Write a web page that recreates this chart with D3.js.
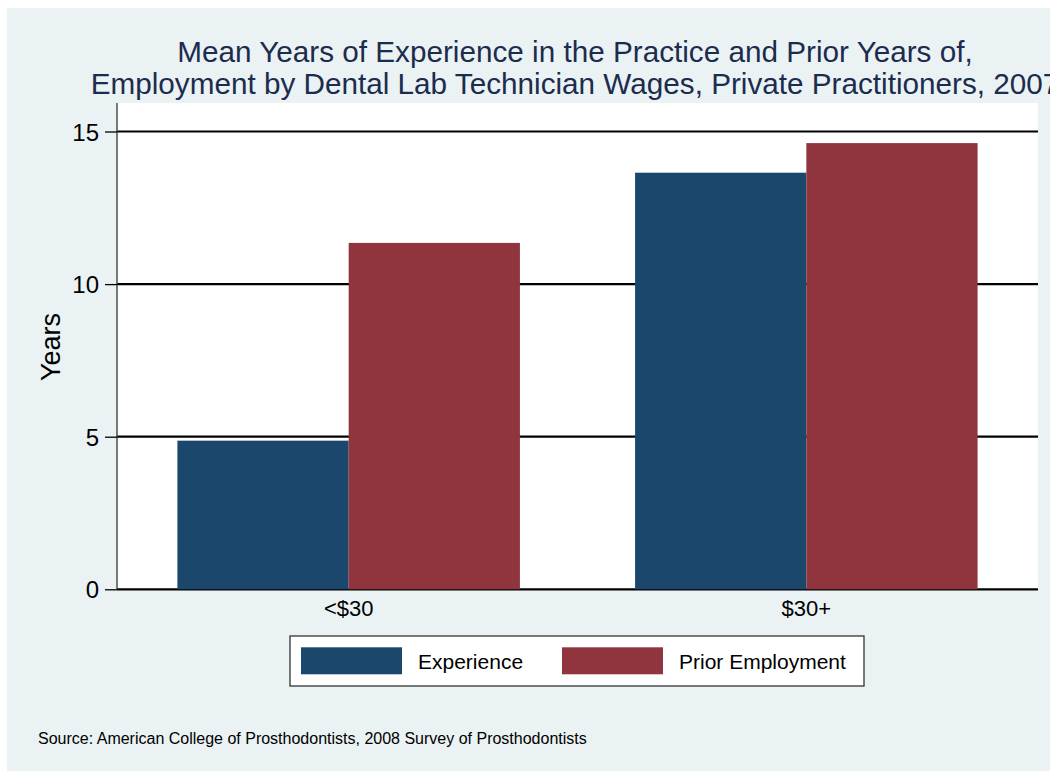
<!DOCTYPE html>
<html><head><meta charset="utf-8">
<script src="https://d3js.org/d3.v7.min.js"></script>
<style>body{margin:0;background:#fff}svg{display:block;font-family:"Liberation Sans",Arial,sans-serif}</style>
</head><body>
<script>
const categories = ["<$30", "$30+"];
const seriesNames = ["Experience", "Prior Employment"];
const experience = [4.87, 13.65];
const priorEmployment = [11.35, 14.62];
const yTicks = [0, 5, 10, 15];
const colors = ["#1c476d", "#90353d"];
const titleLines = ["Mean Years of Experience in the Practice and Prior Years of,",
  "Employment by Dental Lab Technician Wages, Private Practitioners, 2007"];
const sourceText = "Source: American College of Prosthodontists, 2008 Survey of Prosthodontists";

const W = 1050, H = 771;
const svg = d3.select("body").append("svg").attr("width", W).attr("height", H);
svg.append("rect").attr("x", 7).attr("y", 8).attr("width", W - 7).attr("height", H - 8).attr("fill", "#eaf2f3");

const L = 117, R = 1038, T = 103, B = 589.3;
svg.append("rect").attr("x", L).attr("y", T).attr("width", R - L).attr("height", B - T).attr("fill", "#fff");

const y = d3.scaleLinear().domain([0, 15]).range([B, B - 3 * 152.6]);
const x0 = d3.scaleBand().domain(categories).range([L, R]).paddingInner(0.2516).paddingOuter(0.132);
const x1 = d3.scaleBand().domain(seriesNames).range([0, x0.bandwidth()]);

// gridlines
svg.append("g").selectAll("line").data(yTicks).join("line")
  .attr("x1", L).attr("x2", R).attr("y1", d => y(d)).attr("y2", d => y(d))
  .attr("stroke", "#000").attr("stroke-width", 2.2);

const data = categories.map((c, i) => ({cat: c, vals: [experience[i], priorEmployment[i]]}));
svg.append("g").selectAll("g").data(data).join("g")
  .attr("transform", d => `translate(${x0(d.cat)},0)`)
  .selectAll("rect").data(d => d.vals.map((v, j) => ({s: seriesNames[j], v, j}))).join("rect")
  .attr("x", d => x1(d.s)).attr("width", x1.bandwidth())
  .attr("y", d => y(d.v)).attr("height", d => y(0) - y(d.v))
  .attr("fill", d => colors[d.j]);

// y axis
const yAxis = d3.axisLeft(y).tickValues(yTicks).tickSize(12).tickPadding(6).tickFormat(d3.format("d"));
const ga = svg.append("g").attr("transform", `translate(${L},0)`).call(yAxis);
ga.attr("font-size", null).attr("font-family", null);
ga.select(".domain").attr("stroke", "#333").attr("stroke-width", 1.3).attr("d", `M0,${T}V${B}`);
ga.selectAll(".tick line").attr("stroke", "#000").attr("stroke-width", 1.3);
ga.selectAll(".tick text").style("font-size", "24px").attr("fill", "#000").attr("dy", "0.36em");

// x axis labels
const xAxis = d3.axisBottom(x0).tickSize(0).tickPadding(14);
const gx = svg.append("g").attr("transform", `translate(0,${B})`).call(xAxis);
gx.attr("font-size", null).attr("font-family", null);
gx.select(".domain").remove();
gx.selectAll(".tick text").style("font-size", "22px").attr("fill", "#000").attr("dy", "0.6em");

// y label
svg.append("text").attr("transform", "translate(60,347) rotate(-90)").attr("text-anchor", "middle")
  .style("font-size", "27px").attr("fill", "#000").text("Years");

// title
svg.append("g").selectAll("text").data(titleLines).join("text")
  .attr("x", 575).attr("y", (d, i) => 62 + i * 32).attr("text-anchor", "middle")
  .style("font-size", "29.7px").attr("fill", "#1c2c4f").text(d => d);

// legend
const lg = svg.append("g");
lg.append("rect").attr("x", 290).attr("y", 636).attr("width", 574).attr("height", 50)
  .attr("fill", "#fff").attr("stroke", "#333").attr("stroke-width", 1.3);
const legX = [301, 562];
const legTX = [418, 679];
seriesNames.forEach((s, i) => {
  lg.append("rect").attr("x", legX[i]).attr("y", 647.3).attr("width", 101).attr("height", 27).attr("fill", colors[i]);
  lg.append("text").attr("x", legTX[i]).attr("y", 669).style("font-size", "21px").attr("fill", "#000").text(s);
});

svg.append("text").attr("x", 38).attr("y", 744).style("font-size", "16px").attr("fill", "#000").text(sourceText);
</script>
</body></html>
